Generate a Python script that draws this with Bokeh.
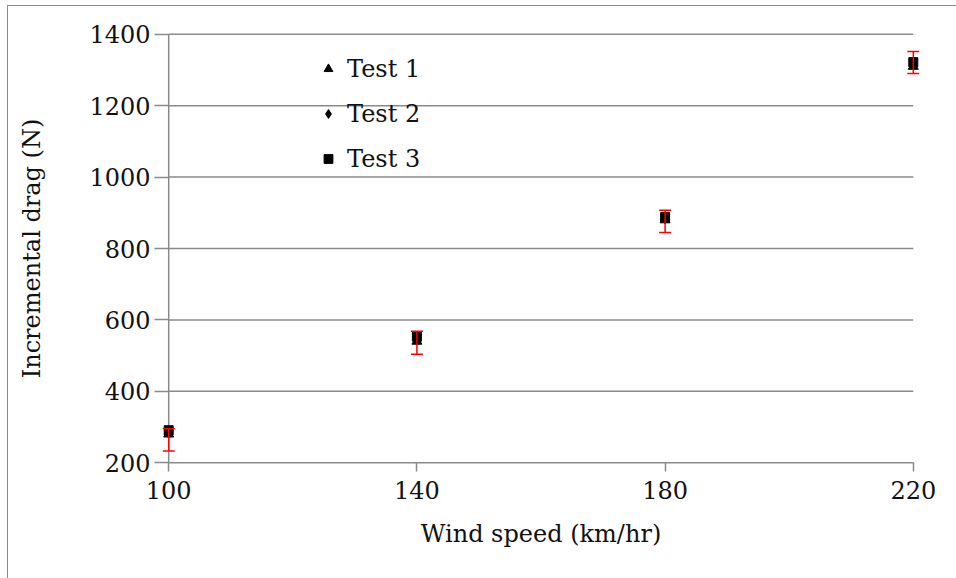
from bokeh.plotting import figure
from bokeh.models import (ColumnDataSource, Legend, LegendItem, Whisker,
                          FixedTicker, TeeHead)
from bokeh.embed import file_html
from bokeh.resources import INLINE

# Wind speed categories (km/hr)
speeds = [100, 140, 180, 220]

# Incremental drag (N) for each test run
test1 = [280, 540, 880, 1310]
test2 = [285, 546, 884, 1318]
test3 = [291, 553, 888, 1322]

# Mean and error band drawn as red error bars
mean_drag = [264, 536, 876, 1321]
err_drag = [31, 32, 31, 31]

y_ticks = [200, 400, 600, 800, 1000, 1200, 1400]

FONT = "DejaVu Serif"
GRID = "#8a8a8a"
TXT = "#111111"
FS = "24px"

# ranges are padded a little so markers at the edges are not cut off;
# the axis lines themselves are drawn at the data limits
p = figure(
    output_backend="svg", toolbar_location=None,
    frame_width=757, frame_height=432,
    min_border_left=154, min_border_top=26,
    min_border_right=39, min_border_bottom=115,
    x_range=(99, 221), y_range=(195, 1405),
    x_axis_label="Wind speed (km/hr)", y_axis_label="Incremental drag (N)",
)
p.styles = {"border": "1px solid #8c8c8c", "margin-left": "7px", "margin-top": "5px"}
p.outline_line_color = None
p.background_fill_color = "white"
p.xgrid.grid_line_color = None
p.ygrid.grid_line_color = None

# horizontal gridlines (the lowest one doubles as the x axis line)
p.segment(x0=[speeds[0]] * len(y_ticks), x1=[speeds[-1]] * len(y_ticks),
          y0=y_ticks, y1=y_ticks, line_color=GRID, line_width=1.5)
# y axis line at the first wind speed
p.segment(x0=[speeds[0]], x1=[speeds[0]], y0=[y_ticks[0]], y1=[y_ticks[-1]],
          line_color=GRID, line_width=1.5)

for ax in (p.xaxis[0], p.yaxis[0]):
    ax.axis_line_color = None
    ax.major_tick_line_color = GRID
    ax.major_tick_line_width = 1.5
    ax.minor_tick_line_color = None
    ax.major_label_text_font = FONT
    ax.major_label_text_font_size = FS
    ax.major_label_text_color = TXT
    ax.axis_label_text_font = FONT
    ax.axis_label_text_font_size = FS
    ax.axis_label_text_font_style = "normal"
    ax.axis_label_text_color = TXT

p.xaxis.ticker = FixedTicker(ticks=speeds)
p.yaxis.ticker = FixedTicker(ticks=y_ticks)
# ticks reach from the drawn axis lines outward
p.yaxis.major_tick_in = 6
p.yaxis.major_tick_out = 8
p.xaxis.major_tick_in = 2
p.xaxis.major_tick_out = 7
p.yaxis.major_label_standoff = 4
p.xaxis.major_label_standoff = 9
p.xaxis.axis_label_standoff = 18
p.yaxis.axis_label_standoff = 40

src = ColumnDataSource(dict(
    x=speeds, t1=test1, t2=test2, t3=test3,
    lo=[m - e for m, e in zip(mean_drag, err_drag)],
    hi=[m + e for m, e in zip(mean_drag, err_drag)],
))

r1 = p.scatter("x", "t1", source=src, marker="triangle", size=10,
               color="black")
r2 = p.scatter("x", "t2", source=src, marker="diamond", size=11,
               color="black")
r3 = p.scatter("x", "t3", source=src, marker="square", size=9,
               color="black")

# red error bars, drawn over the markers
p.add_layout(Whisker(
    source=src, base="x", lower="lo", upper="hi", level="overlay",
    line_color="red", line_width=1.5,
    upper_head=TeeHead(size=12, line_color="red", line_width=1.5),
    lower_head=TeeHead(size=12, line_color="red", line_width=1.5),
))

legend = Legend(
    items=[LegendItem(label="Test 1", renderers=[r1]),
           LegendItem(label="Test 2", renderers=[r2]),
           LegendItem(label="Test 3", renderers=[r3])],
    location=(155, 283), padding=0, margin=0, spacing=0,
    glyph_width=22, glyph_height=45, label_height=45,
    label_standoff=8,
    label_text_font=FONT, label_text_font_size=FS,
    label_text_color=TXT,
    background_fill_alpha=0, border_line_alpha=0,
)
p.add_layout(legend, "center")

open("out.html", "w").write(file_html(p, INLINE))
